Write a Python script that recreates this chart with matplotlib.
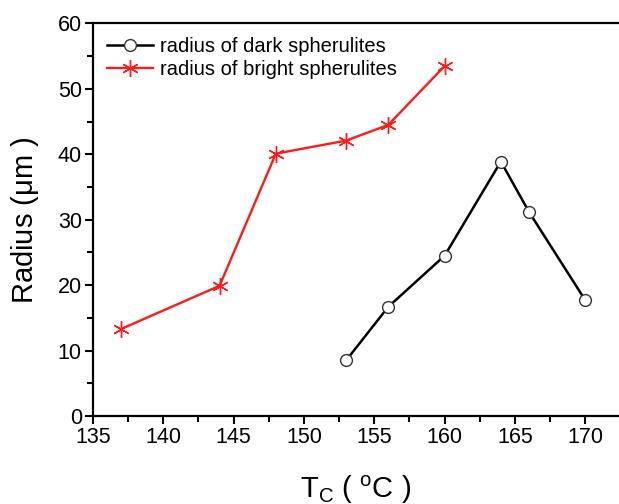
import matplotlib
matplotlib.use("Agg")
import matplotlib.pyplot as plt
from matplotlib.ticker import MultipleLocator

plt.rcParams['font.family'] = ['Liberation Sans', 'DejaVu Sans']
plt.rcParams['mathtext.fontset'] = 'custom'
plt.rcParams['mathtext.rm'] = 'Liberation Sans'
plt.rcParams['mathtext.it'] = 'Liberation Sans'

# crystallization temperature (C) and spherulite radius (um)
tc_dark = [153, 156, 160, 164, 166, 170]
r_dark = [8.5, 16.7, 24.5, 38.9, 31.2, 17.7]
tc_bright = [137, 144, 148, 153, 156, 160]
r_bright = [13.3, 19.9, 40.1, 42.1, 44.5, 53.5]

fig = plt.figure(figsize=(6.19, 5.04), dpi=100)
ax = fig.add_axes([0.1502, 0.1746, 0.8498, 0.7788])

ax.plot(tc_dark, r_dark, color='black', lw=1.8, marker='o', ms=8.5,
        mfc='white', mec='#333333', mew=1.0, label='radius of dark spherulites')
ax.plot(tc_bright, r_bright, color='#ff1a1a', lw=1.7, marker=(6, 2, 0), ms=12,
        mec='#ff1a1a', mew=1.0, label='radius of bright spherulites')

ax.set_xlim(135, 172.4)
ax.set_ylim(0, 60)
ax.xaxis.set_minor_locator(MultipleLocator(2.5))
ax.yaxis.set_major_locator(MultipleLocator(10))
ax.yaxis.set_minor_locator(MultipleLocator(5))
ax.set_xticks(range(135, 171, 5))
ax.tick_params(which='major', direction='out', length=6, width=1.5, labelsize=15.5, pad=2)
ax.tick_params(which='minor', direction='out', length=4, width=1.5)
ax.spines['right'].set_visible(False)
for s in ['left', 'bottom', 'top']:
    ax.spines[s].set_linewidth(1.6)

ax.set_xlabel('T$_{\\mathrm{C}}$ ( $^{\\mathrm{o}}$C )', fontsize=21)
ax.xaxis.label.set_va('baseline')
ax.xaxis.set_label_coords(0.5, -0.21)
ax.set_ylabel('Radius ($\\mathrm{\\mu}$m )', fontsize=21)
ax.yaxis.label.set_va('center')
ax.yaxis.set_label_coords(-0.13, 0.5)

ax.legend(loc='upper left', bbox_to_anchor=(0.0266, 0.965), frameon=False,
          fontsize=14.5, handlelength=2.3, handletextpad=0.35, borderpad=0,
          borderaxespad=0, labelspacing=0.2)

fig.savefig('out.png', dpi=100)
